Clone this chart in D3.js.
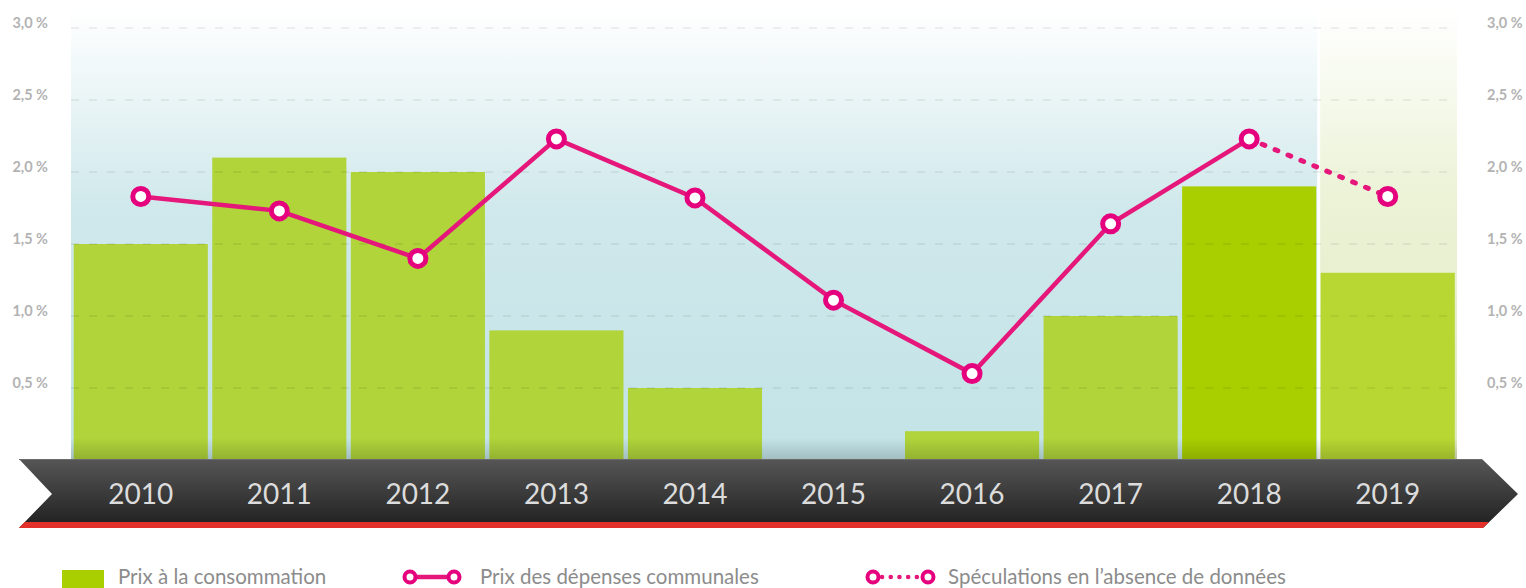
<!DOCTYPE html>
<html><head><meta charset="utf-8">
<script src="https://cdn.jsdelivr.net/npm/d3@7"></script>
<style>html,body{margin:0;padding:0;background:#fff;}svg{display:block;font-family:Lato,"Noto Sans",sans-serif;}</style>
</head><body>
<svg id="c" width="1526" height="588"></svg>
<script>
const years = ["2010","2011","2012","2013","2014","2015","2016","2017","2018","2019"];
const consumerPrices = [1.5, 2.1, 2.0, 0.9, 0.5, 0, 0.2, 1.0, 1.9, 1.3];
const communalPrices = [1.83, 1.73, 1.40, 2.23, 1.82, 1.11, 0.60, 1.64, 2.23, null];
const speculation = [null, null, null, null, null, null, null, null, 2.23, 1.83];
const yTicks = [0.5, 1.0, 1.5, 2.0, 2.5, 3.0];
const legendLabels = ["Prix à la consommation", "Prix des dépenses communales", "Spéculations en l’absence de données"];

const svg = d3.select("#c");
const defs = svg.append("defs");
const x = d3.scaleBand().domain(years).range([71.5, 1457]).paddingInner(0.032).paddingOuter(0.016);
const y = d3.scaleLinear().domain([0, 3]).range([460, 28]);
const fmt = v => d3.format(".1f")(v).replace(".", ",") + " %";

// gradients
const gBlue = defs.append("linearGradient").attr("id","gBlue").attr("x1",0).attr("y1",0).attr("x2",0).attr("y2",1);
gBlue.append("stop").attr("offset",0).attr("stop-color","#ffffff");
gBlue.append("stop").attr("offset",0.45).attr("stop-color","#cfe8eb");
gBlue.append("stop").attr("offset",1).attr("stop-color","#c2e3e7");
const gYel = defs.append("linearGradient").attr("id","gYel").attr("x1",0).attr("y1",0).attr("x2",0).attr("y2",1);
gYel.append("stop").attr("offset",0).attr("stop-color","#ffffff");
gYel.append("stop").attr("offset",0.4).attr("stop-color","#ecf3d8");
gYel.append("stop").attr("offset",1).attr("stop-color","#dde9bd");
const gShade = defs.append("linearGradient").attr("id","gShade").attr("x1",0).attr("y1",0).attr("x2",0).attr("y2",1);
gShade.append("stop").attr("offset",0).attr("stop-color","#000").attr("stop-opacity",0);
gShade.append("stop").attr("offset",1).attr("stop-color","#000").attr("stop-opacity",0.17);
const gRib = defs.append("linearGradient").attr("id","gRib").attr("x1",0).attr("y1",0).attr("x2",0).attr("y2",1);
gRib.append("stop").attr("offset",0).attr("stop-color","#565656");
gRib.append("stop").attr("offset",1).attr("stop-color","#1f1f1f");

// backgrounds
const lastBand = x("2019");
svg.append("rect").attr("x",71).attr("y",8).attr("width",lastBand - 3.5 - 71).attr("height",y(0)-8).attr("fill","url(#gBlue)");
svg.append("rect").attr("x",lastBand - 0.5).attr("y",8).attr("width",1457.5 - lastBand).attr("height",y(0)-8).attr("fill","url(#gYel)");

// bars
svg.append("g").selectAll("rect").data(years).join("rect")
  .attr("x", d => x(d)).attr("width", x.bandwidth())
  .attr("y", (d,i) => y(consumerPrices[i])).attr("height", (d,i) => y(0) - y(consumerPrices[i]))
  .attr("fill", d => d === "2018" ? "#a9cf00" : (d === "2019" ? "#b8d732" : "#b0d43a"));

// bottom shading
svg.append("rect").attr("x",71).attr("y",y(0)-22).attr("width",1457-71).attr("height",22).attr("fill","url(#gShade)");

// gridlines
svg.append("g").selectAll("line").data(yTicks).join("line")
  .attr("x1",71).attr("x2",1450).attr("y1",d=>y(d)).attr("y2",d=>y(d))
  .attr("stroke","#000").attr("stroke-opacity",0.12).attr("stroke-width",1.2).attr("stroke-dasharray","8 10");

// y labels
const yl = svg.append("g").attr("font-size",14.5).attr("font-weight","bold").attr("fill","#b3b3b3");
yl.selectAll("text.l").data(yTicks).join("text").attr("class","l").attr("x",48).attr("y",d=>y(d)-0.5).attr("text-anchor","end").text(fmt);
yl.selectAll("text.r").data(yTicks).join("text").attr("class","r").attr("x",1487).attr("y",d=>y(d)-0.5).text(fmt);

// ribbon
const ribPath = "M19,459 L1482,459 L1518,494 L1483,528 L19,528 L52,494 Z";
defs.append("clipPath").attr("id","ribClip").append("path").attr("d",ribPath);
svg.append("path").attr("d",ribPath).attr("fill","url(#gRib)");
svg.append("rect").attr("x",0).attr("y",522).attr("width",1526).attr("height",7).attr("fill","#e3302a").attr("clip-path","url(#ribClip)");
svg.append("line").attr("x1",19).attr("x2",1482).attr("y1",459.5).attr("y2",459.5).attr("stroke","#6a6a6a").attr("stroke-width",1);
svg.append("g").selectAll("text").data(years).join("text")
  .attr("x", d => x(d) + x.bandwidth()/2).attr("y", 504).attr("text-anchor","middle")
  .attr("font-size",28).attr("fill","#dcdcdc").text(d=>d);

// lines
const pink = "#e5177b";
const cx = d => x(d) + x.bandwidth()/2;
const line = d3.line().defined(d => d[1] != null).x(d => cx(d[0])).y(d => y(d[1]));
svg.append("path").datum(years.map((d,i)=>[d, speculation[i]])).attr("d", line)
  .attr("fill","none").attr("stroke",pink).attr("stroke-width",5).attr("stroke-linecap","round").attr("stroke-dasharray","3 11");
svg.append("path").datum(years.map((d,i)=>[d, communalPrices[i]])).attr("d", line)
  .attr("fill","none").attr("stroke",pink).attr("stroke-width",4.5);
const pts = years.map((d,i)=>[d, communalPrices[i] != null ? communalPrices[i] : speculation[i]]);
svg.append("g").selectAll("circle").data(pts).join("circle")
  .attr("cx", d=>cx(d[0])).attr("cy", d=>y(d[1])).attr("r",8)
  .attr("fill","#fff").attr("stroke","#e5007d").attr("stroke-width",5);

// legend
const lg = svg.append("g").attr("font-size",20.5).attr("fill","#8c8c8c");
lg.append("rect").attr("x",62).attr("y",570).attr("width",42).attr("height",20).attr("fill","#a9cf00");
lg.append("text").attr("x",118).attr("y",583.5).text(legendLabels[0]);
lg.append("line").attr("x1",410).attr("x2",454).attr("y1",577).attr("y2",577).attr("stroke",pink).attr("stroke-width",4.5);
lg.selectAll("circle.a").data([410,454]).join("circle").attr("class","a").attr("cx",d=>d).attr("cy",577).attr("r",5.5).attr("fill","#fff").attr("stroke","#e5007d").attr("stroke-width",4);
lg.append("text").attr("x",480).attr("y",583.5).text(legendLabels[1]);
lg.append("line").attr("x1",873).attr("x2",928).attr("y1",577).attr("y2",577).attr("stroke",pink).attr("stroke-width",4.5).attr("stroke-linecap","round").attr("stroke-dasharray","0.1 8.6").attr("stroke-dashoffset",-9);
lg.selectAll("circle.b").data([873,928]).join("circle").attr("class","b").attr("cx",d=>d).attr("cy",577).attr("r",5.5).attr("fill","#fff").attr("stroke","#e5007d").attr("stroke-width",4);
lg.append("text").attr("x",948).attr("y",583.5).text(legendLabels[2]);
</script>
</body></html>
